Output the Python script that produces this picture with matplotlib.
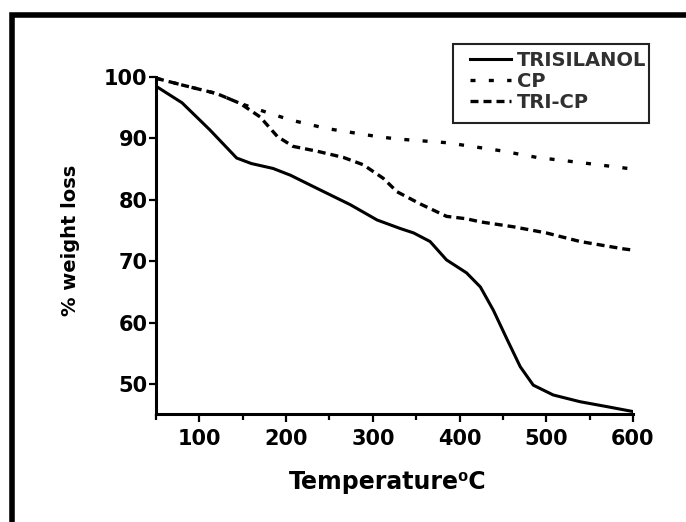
import matplotlib
matplotlib.use("Agg")
import matplotlib.pyplot as plt
from matplotlib.patches import Rectangle
from matplotlib.ticker import MultipleLocator

# TGA curves
temp_tri = [50, 80, 112, 143, 160, 185, 205, 235, 274, 305, 332, 347, 366, 385, 408,
            424, 439, 455, 470, 485, 508, 539, 570, 600]
wt_tri = [98.5, 95.8, 91.4, 86.8, 85.9, 85.1, 84.0, 81.9, 79.2, 76.7, 75.3, 74.6, 73.2, 70.2, 68.1,
          65.8, 62.0, 57.2, 52.8, 49.8, 48.2, 47.1, 46.3, 45.5]

temp_cp = [50, 80, 120, 147, 170, 205, 247, 305, 328, 385, 447, 489, 543, 600]
wt_cp = [99.8, 98.7, 97.3, 95.7, 94.6, 93.0, 91.6, 90.3, 89.9, 89.3, 88.0, 86.9, 86.0, 85.0]

temp_tricp = [50, 80, 120, 147, 170, 190, 208, 236, 266, 289, 312, 328, 355, 385, 408, 424,
              462, 500, 539, 589, 600]
wt_tricp = [99.8, 98.7, 97.3, 95.7, 93.5, 90.3, 88.7, 87.9, 86.9, 85.7, 83.5, 81.3, 79.3, 77.3, 76.9, 76.4,
            75.6, 74.6, 73.2, 72.0, 71.8]

labels = ["TRISILANOL", "CP", "TRI-CP"]

W, H = 686, 522
fig = plt.figure(figsize=(W / 100, H / 100), dpi=100)
ax = fig.add_axes([156 / W, 1 - 414 / H, (633 - 156) / W, (414 - 77) / H])

ax.plot(temp_tri, wt_tri, color="black", lw=2.2, label=labels[0])
ax.plot(temp_cp, wt_cp, color="black", lw=2.4, linestyle=(0, (1.5, 4.0)),
        dash_capstyle="butt", label=labels[1])
ax.plot(temp_tricp, wt_tricp, color="black", lw=2.4, linestyle=(0, (2.4, 1.5)),
        dash_capstyle="butt", label=labels[2])

ax.set_xlim(50, 600)
ax.set_ylim(45.1, 100)
ax.xaxis.set_major_locator(MultipleLocator(100))
ax.xaxis.set_minor_locator(MultipleLocator(50))
ax.yaxis.set_major_locator(MultipleLocator(10))

for side in ["top", "right"]:
    ax.spines[side].set_visible(False)
for side in ["left", "bottom"]:
    ax.spines[side].set_linewidth(2.2)

ax.tick_params(axis="x", which="major", direction="out", length=6, width=1.6, pad=5)
ax.tick_params(axis="x", which="minor", direction="out", length=4, width=1.6)
ax.tick_params(axis="y", which="major", direction="out", length=5, width=1.6, pad=1)
for lab in ax.get_xticklabels() + ax.get_yticklabels():
    lab.set_family("DejaVu Sans")
    lab.set_fontweight("bold")
    lab.set_fontsize(15)

fig.text(388 / W, 1 - 482 / H, "Temperature\u2070C", ha="center", va="center",
         fontsize=17, fontweight="bold", family="DejaVu Sans")
fig.text(70 / W, 1 - 240 / H, "% weight loss", ha="center", va="center", rotation=90,
         fontsize=14, fontweight="bold", family="DejaVu Sans")

# legend without frame, box drawn separately
leg = fig.legend(loc="upper left", bbox_to_anchor=(470 / W, 1 - 51 / H), frameon=False,
                 borderpad=0, borderaxespad=0, handlelength=2.1, handletextpad=0.3,
                 labelspacing=0.1, prop={"family": "DejaVu Sans", "weight": "bold", "size": 14})
for t in leg.get_texts():
    t.set_color("#303030")
fig.patches.append(Rectangle((453 / W, 1 - 123 / H), (649 - 453) / W, (123 - 44) / H,
                             transform=fig.transFigure, fill=False, lw=1.5, edgecolor="#222222"))

# outer frame of the picture
fig.patches.append(Rectangle((12 / W, -0.1), 1.2, 1.1 - 14.5 / H, transform=fig.transFigure,
                             fill=False, lw=4, edgecolor="black"))

fig.savefig("out.png", dpi=100)
